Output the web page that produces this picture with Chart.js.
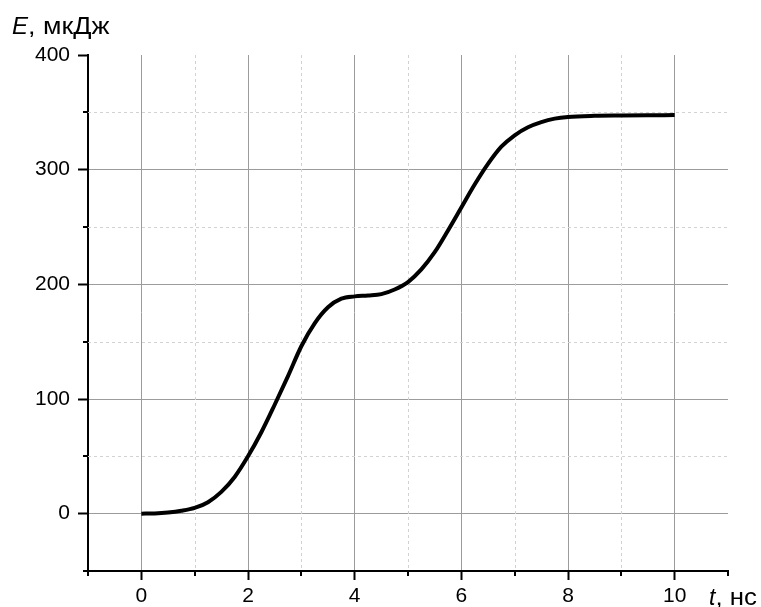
<!DOCTYPE html>
<html>
<head>
<meta charset="utf-8">
<script src="https://cdn.jsdelivr.net/npm/chart.js@4/dist/chart.umd.min.js"></script>
<style>
  html, body { margin: 0; padding: 0; background: #fff; }
  #wrap { width: 761px; height: 607px; position: relative; }
</style>
</head>
<body>
<div id="wrap"><canvas id="c" width="761" height="607"></canvas></div>
<script>
// ---- data ----
const timeNs = [0, 0.25, 0.5, 0.75, 1, 1.25, 1.5, 1.75, 2, 2.25, 2.5, 2.75, 3, 3.25, 3.5, 3.75, 4, 4.25, 4.5, 4.75, 5,
  5.25, 5.5, 5.75, 6, 6.25, 6.5, 6.75, 7, 7.25, 7.5, 7.75, 8, 8.5, 9, 9.5, 10];
const energyMkJ = [0, 0.2, 1, 2.5, 5, 10, 19, 32, 50, 71, 95, 120, 146, 166, 180, 187.5, 189.5, 190.3, 191.5, 195.5, 202,
  213, 228, 247, 267, 287, 305, 320, 330, 337, 341.5, 344.5, 346, 347, 347.3, 347.5, 347.6];
const xMajorTicks = [0, 2, 4, 6, 8, 10];
const xMinorTicks = [-1, 1, 3, 5, 7, 9, 11];
const yMajorTicks = [0, 100, 200, 300, 400];
const yMinorTicks = [-50, 50, 150, 250, 350];
const xGridMinor = [1, 3, 5, 7, 9];
const yGridMinor = [50, 150, 250, 350];
const yTitleItalic = 'E';
const yTitleRest = ', мкДж';
const xTitleItalic = 't';
const xTitleRest = ', нс';

const FONT = '"Liberation Sans", Arial, sans-serif';

function drawTitle(ctx, italicPart, restPart, x, baseline, size, totalWidth) {
  ctx.font = 'italic ' + size + 'px ' + FONT;
  ctx.fillText(italicPart, x, baseline);
  const w1 = ctx.measureText(italicPart).width;
  ctx.font = size + 'px ' + FONT;
  const w2 = ctx.measureText(restPart).width;
  const sx = Math.min(1.12, Math.max(1, (totalWidth - w1) / w2));
  ctx.save();
  ctx.translate(x + w1, baseline);
  ctx.scale(sx, 1);
  ctx.fillText(restPart, 0, 0);
  ctx.restore();
}

const minorPlugin = {
  id: 'minorPlugin',
  beforeDatasetsDraw(chart) {
    const ctx = chart.ctx, ca = chart.chartArea;
    const xs = chart.scales.x, ys = chart.scales.y;
    ctx.save();
    ctx.strokeStyle = '#d2d2d2';
    ctx.lineWidth = 1;
    ctx.setLineDash([3, 3]);
    xGridMinor.forEach(v => {
      const px = Math.round(xs.getPixelForValue(v)) + 0.5;
      ctx.beginPath(); ctx.moveTo(px, ca.top); ctx.lineTo(px, ca.bottom); ctx.stroke();
    });
    yGridMinor.forEach(v => {
      const py = Math.round(ys.getPixelForValue(v)) + 0.5;
      ctx.beginPath(); ctx.moveTo(ca.left, py); ctx.lineTo(ca.right, py); ctx.stroke();
    });
    ctx.restore();
  },
  afterDraw(chart) {
    const ctx = chart.ctx, ca = chart.chartArea;
    const xs = chart.scales.x, ys = chart.scales.y;
    ctx.save();
    ctx.strokeStyle = '#000';
    ctx.lineWidth = 2;
    xMinorTicks.forEach(v => {
      const px = Math.round(xs.getPixelForValue(v));
      ctx.beginPath(); ctx.moveTo(px, ca.bottom); ctx.lineTo(px, ca.bottom + 5); ctx.stroke();
    });
    yMinorTicks.forEach(v => {
      const py = Math.round(ys.getPixelForValue(v));
      ctx.beginPath(); ctx.moveTo(ca.left - 5, py); ctx.lineTo(ca.left, py); ctx.stroke();
    });
    ctx.fillStyle = '#000';
    ctx.textBaseline = 'alphabetic';
    ctx.textAlign = 'left';
    drawTitle(ctx, yTitleItalic, yTitleRest, 12, 34, 24, 99);
    drawTitle(ctx, xTitleItalic, xTitleRest, 709, 605, 23, 48);
    ctx.restore();
  }
};

new Chart(document.getElementById('c'), {
  type: 'line',
  data: {
    datasets: [{
      data: timeNs.map((t, i) => ({ x: t, y: energyMkJ[i] })),
      borderColor: '#000',
      borderWidth: 4,
      pointRadius: 0,
      cubicInterpolationMode: 'monotone',
      fill: false
    }]
  },
  options: {
    responsive: false,
    animation: false,
    devicePixelRatio: 1,
    layout: { padding: { left: 0, top: 55, right: 33, bottom: 0 } },
    plugins: { legend: { display: false }, tooltip: { enabled: false }, title: { display: false } },
    scales: {
      x: {
        type: 'linear',
        min: -1, max: 11,
        afterBuildTicks: s => { s.ticks = xMajorTicks.map(v => ({ value: v })); },
        afterFit: s => { s.height = 36; },
        ticks: { color: '#000', font: { family: FONT, size: 21 }, padding: 4, maxRotation: 0, autoSkip: false },
        grid: { color: '#9c9c9c', lineWidth: 1, tickColor: '#000', tickWidth: 2, tickLength: 9 },
        border: { color: '#000', width: 2 }
      },
      y: {
        type: 'linear',
        min: -50, max: 400,
        afterBuildTicks: s => { s.ticks = yMajorTicks.map(v => ({ value: v })); },
        afterFit: s => { s.width = 88; },
        ticks: { color: '#000', font: { family: FONT, size: 21 }, padding: 8 },
        grid: {
          color: c => (c.tick && c.tick.value === 400) ? 'rgba(0,0,0,0)' : '#9c9c9c',
          lineWidth: 1, tickColor: '#000', tickWidth: 2, tickLength: 10
        },
        border: { color: '#000', width: 2 }
      }
    }
  },
  plugins: [minorPlugin]
});
</script>
</body>
</html>
